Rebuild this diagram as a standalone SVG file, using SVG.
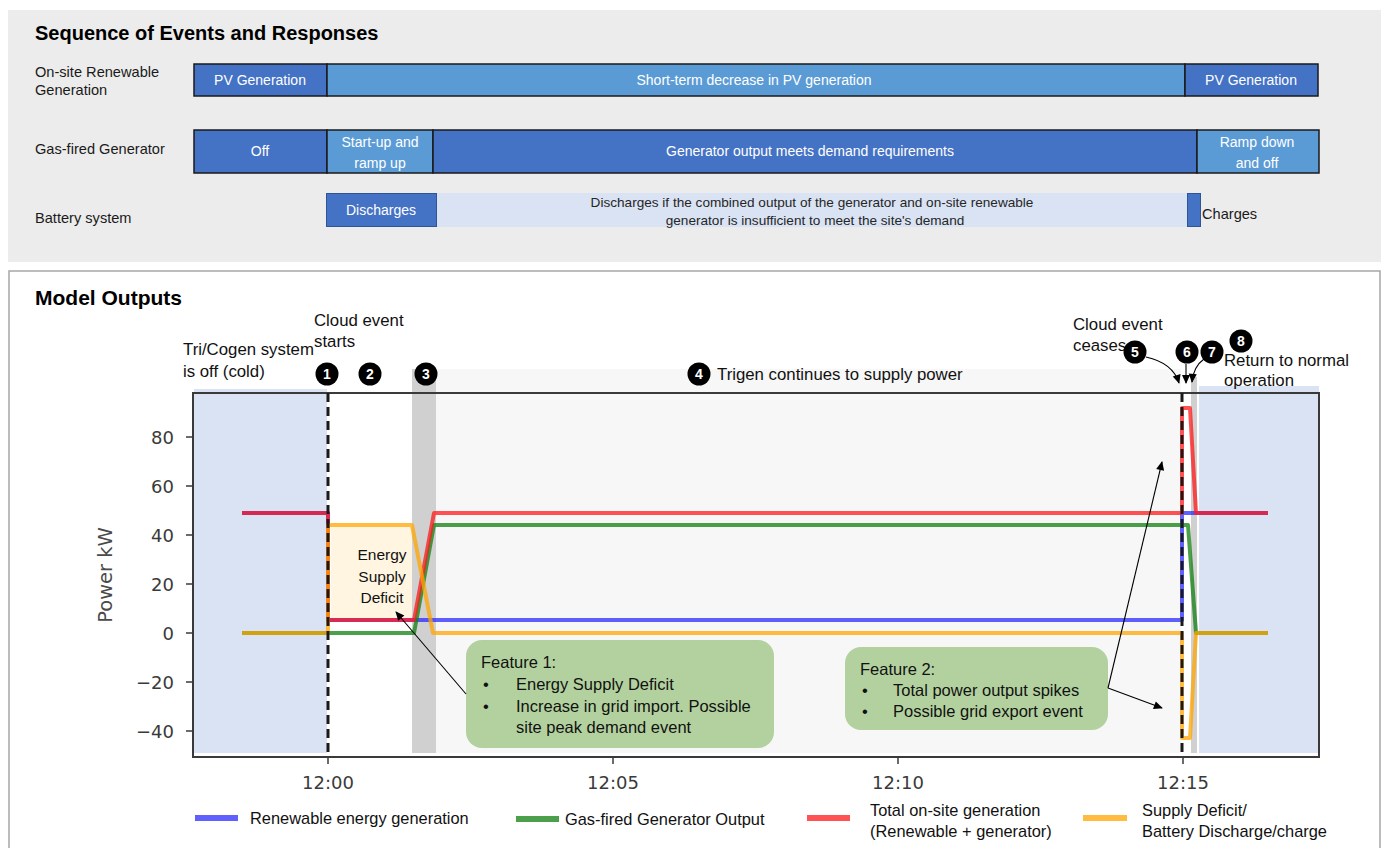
<svg xmlns="http://www.w3.org/2000/svg" width="1386" height="848" viewBox="0 0 1386 848">
<style>
text{font-family:"Liberation Sans",Arial,sans-serif}
.title{font-weight:bold;font-size:20px;fill:#000}
.lbl{font-size:14.6px;fill:#1a1a1a}
.bar{stroke:#1a1a1a;stroke-width:1.5}
.dk{fill:#4472c4}
.lt{fill:#5b9bd5}
.pale{fill:#dae3f3}
.bt{font-size:14px;fill:#fff;text-anchor:middle}
.pt{font-size:13.6px;fill:#262626;text-anchor:middle}
.ann{font-size:16.8px;fill:#111}
.num circle{fill:#000}
.num text{fill:#fff;font-weight:bold;font-size:14px;text-anchor:middle}
.tick{font-family:"DejaVu Sans",sans-serif;font-size:18px;fill:#3a3a3a}
.tk{stroke:#3a3a3a;stroke-width:1.5}
.ln{fill:none;stroke-width:4;stroke-linejoin:round;opacity:.75}
.arr{stroke:#000;stroke-width:1.1;fill:none}
.feat{fill:#b3d19f}
.ft{font-size:16.5px;fill:#111}
.lg{font-size:16.4px;fill:#111}
.dash{stroke:#1a1a1a;stroke-width:3;stroke-dasharray:9 5}
</style>
<defs>
<marker id="ah" viewBox="0 0 10 10" refX="9" refY="5" markerWidth="10" markerHeight="9" orient="auto" markerUnits="userSpaceOnUse">
<path d="M0,0.5 L10,5 L0,9.5 z" fill="#000"/>
</marker>
</defs>

<!-- Top panel -->
<g id="sequence-panel">
<rect x="8" y="10" width="1373" height="252" fill="#ececec"/>
<text class="title" x="35" y="40">Sequence of Events and Responses</text>
</g>

<g id="row-renewable">
<text class="lbl" x="35" y="77">On-site Renewable</text>
<text class="lbl" x="35" y="95">Generation</text>
<rect class="bar dk" x="194" y="64" width="133" height="32"/>
<rect class="bar lt" x="327" y="64" width="858" height="32"/>
<rect class="bar dk" x="1185" y="64" width="133" height="32"/>
<text class="bt" x="260" y="85">PV Generation</text>
<text class="bt" x="754" y="85">Short-term decrease in PV generation</text>
<text class="bt" x="1251" y="85">PV Generation</text>
</g>

<g id="row-generator">
<text class="lbl" x="35" y="154">Gas-fired Generator</text>
<rect class="bar dk" x="194" y="130" width="133" height="43"/>
<rect class="bar lt" x="327" y="130" width="106" height="43"/>
<rect class="bar dk" x="433" y="130" width="764" height="43"/>
<rect class="bar lt" x="1197" y="130" width="122" height="43"/>
<text class="bt" x="260" y="156">Off</text>
<text class="bt" x="380" y="147">Start-up and</text>
<text class="bt" x="380" y="168">ramp up</text>
<text class="bt" x="810" y="156">Generator output meets demand requirements</text>
<text class="bt" x="1257" y="147">Ramp down</text>
<text class="bt" x="1257" y="168">and off</text>
</g>

<g id="row-battery">
<text class="lbl" x="35" y="223">Battery system</text>
<rect class="pale" x="436" y="193" width="751" height="34"/>
<rect class="dk" x="326.5" y="193.5" width="110" height="33" stroke="#2f5597" stroke-width="1"/>
<rect class="dk" x="1187.5" y="193.5" width="13" height="33" stroke="#2f5597" stroke-width="1"/>
<text class="bt" x="381" y="215">Discharges</text>
<text class="pt" x="812" y="207">Discharges if the combined output of the generator and on-site renewable</text>
<text class="pt" x="815" y="225">generator is insufficient to meet the site's demand</text>
<text class="lbl" x="1202" y="219">Charges</text>
</g>

<!-- Bottom panel -->
<g id="model-panel">
<rect x="9" y="271" width="1371" height="600" fill="#fff" stroke="#a6a6a6" stroke-width="1.5"/>
<text class="title" x="35" y="305" style="font-size:21px">Model Outputs</text>
</g>

<g id="chart-shading">
<rect x="194" y="389" width="133" height="364" fill="#dae3f3"/>
<rect x="436" y="369" width="745" height="384" fill="#f7f7f7"/>
<rect x="412" y="369" width="24" height="384" fill="#d0d0d0"/>
<rect x="1191" y="377" width="6" height="376" fill="#d0d0d0"/>
<rect x="1199" y="386" width="120" height="367" fill="#dae3f3"/>
</g>

<g id="deficit-box">
<rect x="331" y="527" width="81" height="91" fill="#fff5e1"/>
<text x="382" y="560" text-anchor="middle" style="font-size:15.5px;fill:#111">Energy</text>
<text x="382" y="582" text-anchor="middle" style="font-size:15.5px;fill:#111">Supply</text>
<text x="382" y="603" text-anchor="middle" style="font-size:15.5px;fill:#111">Deficit</text>
</g>

<g id="axes">
<rect x="193" y="393" width="1126" height="364" fill="none" stroke="#3a3a3a" stroke-width="2"/>
<line class="tk" x1="186" y1="437" x2="193" y2="437"/>
<line class="tk" x1="186" y1="486" x2="193" y2="486"/>
<line class="tk" x1="186" y1="535" x2="193" y2="535"/>
<line class="tk" x1="186" y1="584" x2="193" y2="584"/>
<line class="tk" x1="186" y1="633" x2="193" y2="633"/>
<line class="tk" x1="186" y1="682" x2="193" y2="682"/>
<line class="tk" x1="186" y1="731" x2="193" y2="731"/>
<text class="tick" x="174" y="443.5" text-anchor="end">80</text>
<text class="tick" x="174" y="492.5" text-anchor="end">60</text>
<text class="tick" x="174" y="541.5" text-anchor="end">40</text>
<text class="tick" x="174" y="590.5" text-anchor="end">20</text>
<text class="tick" x="174" y="639.5" text-anchor="end">0</text>
<text class="tick" x="174" y="688.5" text-anchor="end">−20</text>
<text class="tick" x="174" y="737.5" text-anchor="end">−40</text>
<line class="tk" x1="328" y1="757" x2="328" y2="764"/>
<line class="tk" x1="613" y1="757" x2="613" y2="764"/>
<line class="tk" x1="898" y1="757" x2="898" y2="764"/>
<line class="tk" x1="1183" y1="757" x2="1183" y2="764"/>
<text class="tick" x="328" y="789" text-anchor="middle">12:00</text>
<text class="tick" x="613" y="789" text-anchor="middle">12:05</text>
<text class="tick" x="898" y="789" text-anchor="middle">12:10</text>
<text class="tick" x="1183" y="789" text-anchor="middle">12:15</text>
<text class="tick" transform="translate(112,575) rotate(-90)" text-anchor="middle" style="font-size:19.5px;fill:#4a4a4a">Power kW</text>
</g>

<g id="data-lines">
<path class="ln" stroke="#2b2bff" d="M242,513 L328,513 L328,620 L1182,620 L1182,513 L1268,513"/>
<path class="ln" stroke="#108010" d="M242,633 L414,633 L434,525 L1188,525 L1196,633 L1268,633"/>
<path class="ln" stroke="#ff1a1a" d="M242,513 L328,513 L328,620 L414,620 L434,513 L1182,513 L1182,408 L1190,408 L1196,513 L1268,513"/>
<path class="ln" stroke="#ffa500" d="M242,633 L328,633 L328,525 L412,525 L433,633 L1182,633 L1182,738 L1190,738 L1196,633 L1268,633"/>
</g>

<g id="event-lines">
<line class="dash" x1="328" y1="393" x2="328" y2="757"/>
<line class="dash" x1="1182" y1="393" x2="1182" y2="757"/>
</g>

<g id="annotations">
<text class="ann" x="183" y="355">Tri/Cogen system</text>
<text class="ann" x="183" y="377">is off (cold)</text>
<text class="ann" x="314" y="326">Cloud event</text>
<text class="ann" x="314" y="347">starts</text>
<text class="ann" x="717" y="380">Trigen continues to supply power</text>
<text class="ann" x="1073" y="330">Cloud event</text>
<text class="ann" x="1073" y="351">ceases</text>
<text class="ann" x="1224" y="366">Return to normal</text>
<text class="ann" x="1224" y="386">operation</text>
</g>

<g id="marker-1" class="num"><circle cx="327" cy="374" r="11.5"/><text x="327" y="379">1</text></g>
<g id="marker-2" class="num"><circle cx="370" cy="374" r="11.5"/><text x="370" y="379">2</text></g>
<g id="marker-3" class="num"><circle cx="426" cy="374" r="11.5"/><text x="426" y="379">3</text></g>
<g id="marker-4" class="num"><circle cx="699" cy="374" r="11.5"/><text x="699" y="379">4</text></g>
<g id="marker-5" class="num"><circle cx="1135" cy="352" r="11.5"/><text x="1135" y="357">5</text></g>
<g id="marker-6" class="num"><circle cx="1187" cy="352" r="11.5"/><text x="1187" y="357">6</text></g>
<g id="marker-7" class="num"><circle cx="1212" cy="352" r="11.5"/><text x="1212" y="357">7</text></g>
<g id="marker-8" class="num"><circle cx="1241" cy="341" r="11.5"/><text x="1241" y="346">8</text></g>

<g id="feature-1">
<rect class="feat" x="466" y="640" width="308" height="108" rx="16"/>
<text class="ft" x="481" y="668">Feature 1:</text>
<text class="ft" x="483" y="690">•</text>
<text class="ft" x="516" y="690">Energy Supply Deficit</text>
<text class="ft" x="483" y="712">•</text>
<text class="ft" x="516" y="712">Increase in grid import. Possible</text>
<text class="ft" x="516" y="733">site peak demand event</text>
</g>

<g id="feature-2">
<rect class="feat" x="845" y="647" width="263" height="83" rx="16"/>
<text class="ft" x="860" y="675">Feature 2:</text>
<text class="ft" x="862" y="696">•</text>
<text class="ft" x="893" y="696">Total power output spikes</text>
<text class="ft" x="862" y="717">•</text>
<text class="ft" x="893" y="717">Possible grid export event</text>
</g>

<g id="connectors">
<line class="arr" x1="466" y1="694" x2="396" y2="612" marker-end="url(#ah)"/>
<line class="arr" x1="1108" y1="688" x2="1162" y2="462" marker-end="url(#ah)"/>
<line class="arr" x1="1108" y1="688" x2="1162" y2="708" marker-end="url(#ah)"/>
<path class="arr" d="M1146,357 C1164,361 1175,370 1179,383" marker-end="url(#ah)"/>
<line class="arr" x1="1186" y1="364" x2="1186" y2="383" marker-end="url(#ah)"/>
<path class="arr" d="M1204,359 C1197,364 1193,371 1192,382" marker-end="url(#ah)"/>
</g>

<g id="legend">
<rect x="195" y="815" width="43" height="6" fill="#6060ff"/>
<text class="lg" x="250" y="824">Renewable energy generation</text>
<rect x="516" y="816" width="43" height="6" fill="#4ca04c"/>
<text class="lg" x="565" y="825">Gas-fired Generator Output</text>
<rect x="807" y="815" width="43" height="6" fill="#ff5353"/>
<text class="lg" x="870" y="816">Total on-site generation</text>
<text class="lg" x="870" y="837">(Renewable + generator)</text>
<rect x="1083" y="815" width="44" height="6" fill="#ffbc40"/>
<text class="lg" x="1142" y="816">Supply Deficit/</text>
<text class="lg" x="1142" y="837">Battery Discharge/charge</text>
</g>
</svg>
